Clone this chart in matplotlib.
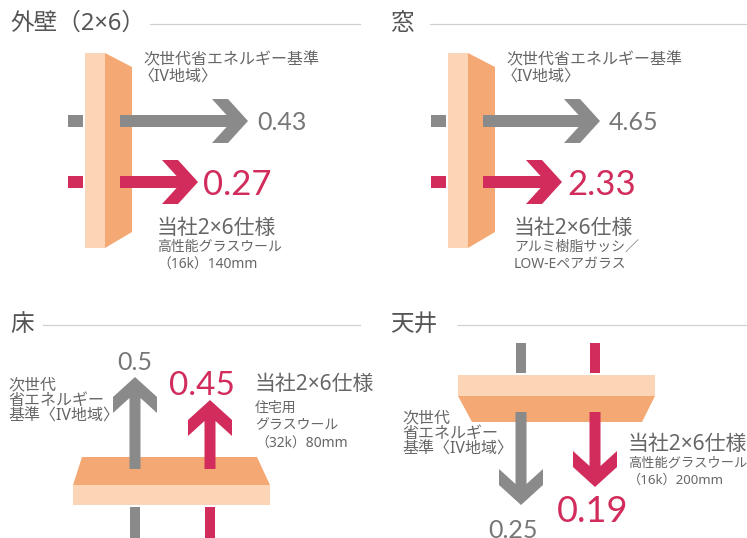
import matplotlib.pyplot as plt
from matplotlib.patches import Polygon
import numpy as np

plt.rcParams['font.family'] = ['Noto Sans', 'Noto Sans CJK JP', 'DejaVu Sans']

# section titles and U-values
sections = ['外壁（2×6）', '窓', '床', '天井']
standard_values = [0.43, 4.65, 0.5, 0.25]
company_values = [0.27, 2.33, 0.45, 0.19]
standard_label = ['次世代省エネルギー基準', '〈IV地域〉']
standard_label_short = ['次世代', '省エネルギー', '基準〈IV地域〉']
company_title = '当社2×6仕様'
company_specs = [['高性能グラスウール', '（16k）140mm'],
                 ['アルミ樹脂サッシ／', 'LOW-Eペアガラス'],
                 ['住宅用', 'グラスウール', '（32k）80mm'],
                 ['高性能グラスウール', '（16k）200mm']]

GREY = '#8a8a8a'
RED = '#d12c5b'
LIGHT = '#fbd5b5'
DARK = '#f4a974'
TXT = '#666666'
NUMFONT = ['Lato', 'DejaVu Sans']


def arrow(ax, start, length, pos, direction, color, t=6, H=22, L=20, w=16):
    tip = length
    uj = tip - w - L * t / H
    pts = [(0, -t), (uj, -t), (tip - L - w, -H), (tip - L, -H), (tip, 0),
           (tip - L, H), (tip - L - w, H), (uj, t), (0, t)]
    if direction == 'right':
        xy = [(start + u, pos + v) for u, v in pts]
    elif direction == 'up':
        xy = [(pos + v, start - u) for u, v in pts]
    else:
        xy = [(pos + v, start + u) for u, v in pts]
    ax.add_patch(Polygon(xy, closed=True, color=color, lw=0, zorder=3))


def stub(ax, x0, x1, y0, y1, color):
    ax.add_patch(Polygon([(x0, y0), (x1, y0), (x1, y1), (x0, y1)],
                         closed=True, color=color, lw=0, zorder=3))


fig = plt.figure(figsize=(7.47, 5.38), dpi=100)
ax = fig.add_axes([0, 0, 1, 1])
ax.set_xlim(0, 747)
ax.set_ylim(538, 0)
ax.axis('off')

# section headers
title_pos = [(10, 24, 150, 360), (390, 24, 430, 747), (10, 325, 43, 360), (390, 325, 458, 747)]
for name, (tx, ty, lx0, lx1) in zip(sections, title_pos):
    ax.text(tx, ty, name, fontsize=17, color='#555555', va='center', ha='left')
    ax.plot([lx0, lx1], [ty, ty], color='#d0d0d0', lw=0.9)

# wall & window panels
for k, dx in enumerate([0, 363]):
    ax.add_patch(Polygon([(85 + dx, 53), (105 + dx, 53), (105 + dx, 248), (85 + dx, 248)],
                         closed=True, color=LIGHT, lw=0, zorder=2))
    ax.add_patch(Polygon([(105 + dx, 53), (132 + dx, 67), (132 + dx, 232), (105 + dx, 248)],
                         closed=True, color=DARK, lw=0, zorder=2))
    tips = [(248, 198), (600, 562)][k]
    stub(ax, 68 + dx, 83 + dx, 115, 127, GREY)
    stub(ax, 68 + dx, 83 + dx, 176, 188, RED)
    arrow(ax, 120 + dx, tips[0] - 120 - dx, 121, 'right', GREY)
    arrow(ax, 120 + dx, tips[1] - 120 - dx, 182, 'right', RED)
    ax.text(tips[0] + 9, 130, f'{standard_values[k]:.2f}', fontsize=18, color='#777777',
            family=NUMFONT, va='baseline')
    ax.text(tips[1] + 5, 195, f'{company_values[k]:.2f}', fontsize=25, color=RED,
            family=NUMFONT, va='baseline')
    lx = 143 + dx
    ax.text(lx, 60, standard_label[0], fontsize=11.5, color=TXT, va='center')
    ax.text(lx - 4, 77, standard_label[1], fontsize=11.5, color=TXT, va='center')
    ax.text(157 + dx - (0 if k == 0 else 6), 228, company_title, fontsize=15, color=TXT, va='center')
    for j, s in enumerate(company_specs[k]):
        ax.text(157 + dx - (0 if k == 0 else 6), 247 + 18 * j, s, fontsize=10, color=TXT, va='center')

# floor
ax.add_patch(Polygon([(82, 457), (257, 457), (270, 485), (73, 485)], closed=True, color=DARK, lw=0, zorder=2))
ax.add_patch(Polygon([(73, 485), (270, 485), (270, 505), (73, 505)], closed=True, color=LIGHT, lw=0, zorder=2))
stub(ax, 130, 140, 507, 538, GREY)
stub(ax, 205, 215, 507, 538, RED)
arrow(ax, 469, 469 - 377, 135, 'up', GREY, t=5.5)
arrow(ax, 469, 469 - 400, 210, 'up', RED, t=5.5)
ax.text(135, 370, f'{standard_values[2]:g}', fontsize=18, color='#777777', family=NUMFONT,
        ha='center', va='baseline')
ax.text(202, 395, f'{company_values[2]:.2f}', fontsize=24, color=RED, family=NUMFONT,
        ha='center', va='baseline')
for j, s in enumerate(standard_label_short):
    ax.text(8, 385 + 16 * j, s, fontsize=11.5, color=TXT, va='center')
ax.text(255, 385, company_title, fontsize=15, color=TXT, va='center')
for j, s in enumerate(company_specs[2]):
    ax.text(255, 408 + 18 * j, s, fontsize=10, color=TXT, va='center')

# ceiling
ax.add_patch(Polygon([(458, 375), (655, 375), (655, 396), (458, 396)], closed=True, color=LIGHT, lw=0, zorder=2))
ax.add_patch(Polygon([(458, 396), (655, 396), (642, 422), (472, 422)], closed=True, color=DARK, lw=0, zorder=2))
stub(ax, 516, 526, 343, 373, GREY)
stub(ax, 590, 600, 343, 373, RED)
arrow(ax, 412, 505 - 412, 521, 'down', GREY, t=5.5)
arrow(ax, 412, 487 - 412, 595, 'down', RED, t=5.5)
ax.text(513, 538, f'{standard_values[3]:.2f}', fontsize=18, color='#777777', family=NUMFONT,
        ha='center', va='baseline')
ax.text(593, 522, f'{company_values[3]:.2f}', fontsize=26, color=RED, family=NUMFONT,
        ha='center', va='baseline')
for j, s in enumerate(standard_label_short):
    ax.text(402, 418 + 16 * j, s, fontsize=11.5, color=TXT, va='center')
ax.text(628, 445, company_title, fontsize=15, color=TXT, va='center')
for j, s in enumerate(company_specs[3]):
    ax.text(628, 463 + 17 * j, s, fontsize=9.5, color=TXT, va='center')

fig.savefig('out.png', dpi=100)
